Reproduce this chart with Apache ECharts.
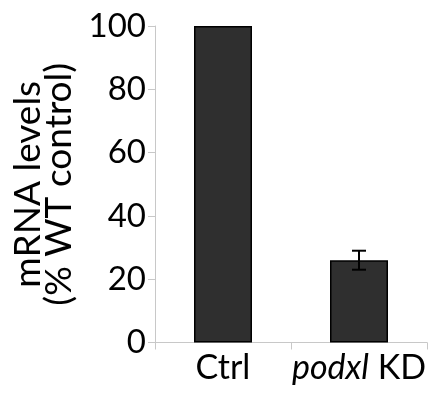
<!DOCTYPE html>
<html><head><meta charset="utf-8">
<script src="https://cdn.jsdelivr.net/npm/echarts@6/dist/echarts.min.js"></script>
<style>html,body{margin:0;padding:0;background:#fff}#c{width:438px;height:394px}</style>
</head><body><div id="c"></div>
<script>
const categories = ['Ctrl', 'podxl KD'];
const values = [100, 26];
const errors = [0, 3];
const yTicks = [0, 20, 40, 60, 80, 100];

const FONT = 'Lato';
const chart = echarts.init(document.getElementById('c'), null, {renderer: 'canvas'});
chart.setOption({
  animation: false,
  backgroundColor: '#fff',
  grid: {left: 155, right: 11, top: 26, bottom: 51.5, containLabel: false},
  xAxis: {
    type: 'category',
    data: categories,
    boundaryGap: true,
    axisLine: {lineStyle: {color: '#c8c8c8', width: 1}},
    axisTick: {show: true, length: 7, lineStyle: {color: '#c8c8c8'}},
    axisLabel: {
      interval: 0,
      hideOverlap: false,
      margin: 9,
      color: '#000',
      fontFamily: FONT,
      fontSize: 34,
      formatter: function (v) { return v === 'podxl KD' ? '{i|podxl} {n|KD}' : '{n|' + v + '}'; },
      rich: {
        i: {fontStyle: 'italic', fontFamily: FONT, fontSize: 34, color: '#000'},
        n: {fontFamily: FONT, fontSize: 34, color: '#000'}
      }
    }
  },
  yAxis: {
    type: 'value',
    min: yTicks[0],
    max: yTicks[yTicks.length - 1],
    interval: 20,
    name: 'mRNA levels\n(% WT control)',
    nameLocation: 'middle',
    nameGap: 69,
    nameRotate: 90,
    nameTextStyle: {color: '#000', fontFamily: FONT, fontSize: 37, lineHeight: 31},
    axisLine: {show: true, lineStyle: {color: '#c8c8c8', width: 1}},
    axisTick: {show: true, length: 7, lineStyle: {color: '#c8c8c8'}},
    splitLine: {show: false},
    axisLabel: {margin: 9, color: '#000', fontFamily: FONT, fontSize: 33}
  },
  series: [
    {
      type: 'bar',
      data: values,
      barWidth: 58,
      itemStyle: {color: '#2f2f2f', borderColor: '#000', borderWidth: 1.5}
    },
    {
      type: 'custom',
      data: values.map((v, i) => [i, v - errors[i], v + errors[i]]),
      renderItem: function (params, api) {
        const i = api.value(0);
        if (errors[i] === 0) return null;
        const lo = api.coord([i, api.value(1)]);
        const hi = api.coord([i, api.value(2)]);
        const hw = 7;
        const st = {stroke: '#000', lineWidth: 2};
        return {type: 'group', children: [
          {type: 'line', shape: {x1: lo[0], y1: lo[1], x2: hi[0], y2: hi[1]}, style: st},
          {type: 'line', shape: {x1: lo[0] - hw, y1: lo[1], x2: lo[0] + hw, y2: lo[1]}, style: st},
          {type: 'line', shape: {x1: hi[0] - hw, y1: hi[1], x2: hi[0] + hw, y2: hi[1]}, style: st}
        ]};
      },
      z: 10
    }
  ]
});
</script></body></html>
